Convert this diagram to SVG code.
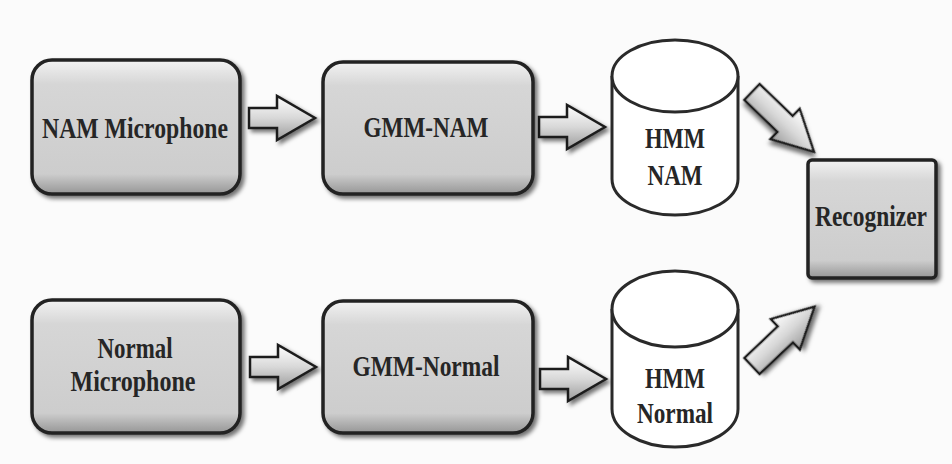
<svg xmlns="http://www.w3.org/2000/svg" width="952" height="464" viewBox="0 0 952 464">
<defs>
<linearGradient id="boxg" x1="0" y1="0" x2="0" y2="1">
<stop offset="0" stop-color="#f2f2f2"/>
<stop offset="0.18" stop-color="#d6d6d6"/>
<stop offset="0.85" stop-color="#cdcdcd"/>
<stop offset="1" stop-color="#969696"/>
</linearGradient>
<linearGradient id="arrg" x1="0" y1="0" x2="0" y2="1">
<stop offset="0" stop-color="#ffffff"/>
<stop offset="0.5" stop-color="#d8d8d8"/>
<stop offset="1" stop-color="#9c9c9c"/>
</linearGradient>
<filter id="sh" x="-20%" y="-20%" width="140%" height="140%">
<feDropShadow dx="3" dy="3" stdDeviation="2" flood-color="#000" flood-opacity="0.55"/>
</filter>
<path id="arrH" d="M0,-10 L28,-10 L28,-22 L66,0 L28,22 L28,10 L0,10 Z"/>
<path id="arrD" d="M0,-11 L46,-11 L46,-21 L86,0 L46,21 L46,11 L0,11 Z"/>
</defs>
<style>
.box{fill:url(#boxg);stroke:#222;stroke-width:3.5;filter:url(#sh)}
.cyl{fill:#ffffff;stroke:#2a2a2a;stroke-width:3}
.lbl{font-family:"Liberation Serif","Times New Roman",serif;font-weight:bold;font-size:29px;fill:#262626;text-anchor:middle}
.arr{fill:url(#arrg);stroke:#1e1e1e;stroke-width:2.5;stroke-linejoin:miter;filter:url(#sh)}
</style>
<rect x="0" y="0" width="952" height="464" fill="#fbfbfb"/>

<g id="connectors">
<use href="#arrH" class="arr" transform="translate(249,118)"/>
<use href="#arrH" class="arr" transform="translate(539,127)"/>
<use href="#arrH" class="arr" transform="translate(250,367)"/>
<use href="#arrH" class="arr" transform="translate(540,379)"/>
<use href="#arrD" class="arr" transform="translate(752,92) rotate(44)"/>
<use href="#arrD" class="arr" transform="translate(752,366) rotate(-43.5)"/>
</g>

<g id="nam_microphone">
<rect class="box" x="32" y="60" width="208" height="134" rx="20"/>
<text class="lbl" x="135" y="138" textLength="186" lengthAdjust="spacingAndGlyphs">NAM Microphone</text>
</g>

<g id="gmm_nam">
<rect class="box" x="323" y="62" width="210" height="132" rx="20"/>
<text class="lbl" x="426" y="137" textLength="125" lengthAdjust="spacingAndGlyphs">GMM-NAM</text>
</g>

<g id="hmm_nam">
<path class="cyl" d="M612,76 L612,179 A63,36 0 0 0 738,179 L738,76"/>
<ellipse class="cyl" cx="675" cy="76" rx="63" ry="36"/>
<text class="lbl" x="675" y="148" textLength="60" lengthAdjust="spacingAndGlyphs">HMM</text>
<text class="lbl" x="675" y="185" textLength="55" lengthAdjust="spacingAndGlyphs">NAM</text>
</g>

<g id="recognizer">
<rect class="box" x="808" y="160" width="128" height="118" rx="4"/>
<text class="lbl" x="871" y="226" textLength="112" lengthAdjust="spacingAndGlyphs">Recognizer</text>
</g>

<g id="normal_microphone">
<rect class="box" x="32" y="300" width="208" height="133" rx="20"/>
<text class="lbl" x="135" y="358" textLength="75" lengthAdjust="spacingAndGlyphs">Normal</text>
<text class="lbl" x="133" y="391" textLength="125" lengthAdjust="spacingAndGlyphs">Microphone</text>
</g>

<g id="gmm_normal">
<rect class="box" x="323" y="301" width="210" height="132" rx="20"/>
<text class="lbl" x="426" y="376" textLength="147" lengthAdjust="spacingAndGlyphs">GMM-Normal</text>
</g>

<g id="hmm_normal">
<path class="cyl" d="M612,309 L612,409 A63,38 0 0 0 738,409 L738,309"/>
<ellipse class="cyl" cx="675" cy="309" rx="63" ry="38"/>
<text class="lbl" x="675" y="388" textLength="60" lengthAdjust="spacingAndGlyphs">HMM</text>
<text class="lbl" x="675" y="423" textLength="76" lengthAdjust="spacingAndGlyphs">Normal</text>
</g>
</svg>
